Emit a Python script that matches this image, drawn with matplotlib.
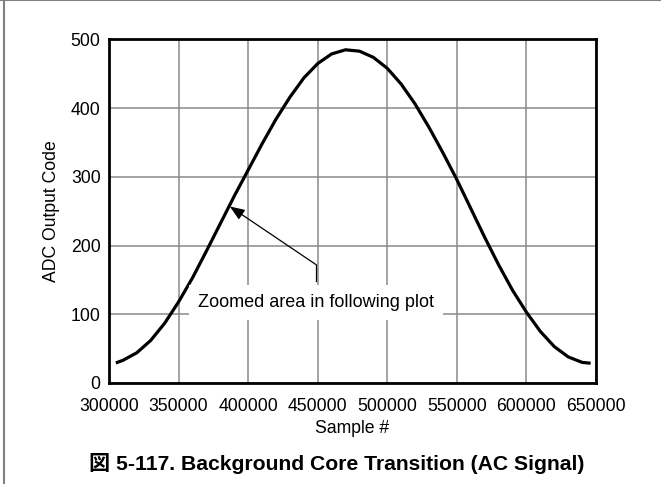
import matplotlib
matplotlib.use("Agg")
import matplotlib.pyplot as plt
from matplotlib.lines import Line2D

# valores
sample = [306000, 310000, 320000, 330000, 340000, 350000, 360000, 370000,
          380000, 390000, 400000, 410000, 420000, 430000, 440000, 450000,
          460000, 470000, 480000, 490000, 500000, 510000, 520000, 530000,
          540000, 550000, 560000, 570000, 580000, 590000, 600000, 610000,
          620000, 630000, 640000, 645000]
adc_code = [30, 33, 44, 62, 87, 118, 153, 192, 232, 272, 310, 348, 384, 416,
            444, 465, 479, 485, 483, 474, 458, 435, 406, 372, 335, 296, 254,
            212, 172, 135, 103, 75, 53, 38, 30, 29]

x_ticks = [300000, 350000, 400000, 450000, 500000, 550000, 600000, 650000]
y_ticks = [0, 100, 200, 300, 400, 500]

arrow_tip = (386800, 257)
arrow_tail = (449000, 172)
note_pos = (449000, 117)
note_text = "Zoomed area in following plot"
caption = "図 5-117. Background Core Transition (AC Signal)"

plt.rcParams['font.family'] = ['Liberation Sans', 'Noto Sans CJK JP', 'DejaVu Sans']

fig = plt.figure(figsize=(6.61, 4.84), dpi=100)
ax = fig.add_axes([0.1649, 0.2087, 0.9017 - 0.1649, 0.9184 - 0.2087])

ax.plot(sample, adc_code, color='black', lw=2.3, solid_joinstyle='round', zorder=3)

ax.set_xlim(300000, 650000)
ax.set_ylim(0, 500)
ax.set_xticks(x_ticks)
ax.set_yticks(y_ticks)
ax.set_xticklabels([str(t) for t in x_ticks])
ax.tick_params(length=0, labelsize=12.7)
ax.tick_params(axis='x', pad=10.5)
ax.tick_params(axis='y', pad=6)
ax.grid(True, color='#8a8a8a', lw=1.1)
ax.set_axisbelow(True)
for s in ax.spines.values():
    s.set_linewidth(2.0)
    s.set_zorder(4)

ax.set_xlabel("Sample #", fontsize=12.7, labelpad=4)
ax.set_ylabel("ADC Output Code", fontsize=12.7, labelpad=8)

# texto y flecha
ax.text(note_pos[0], note_pos[1], note_text, fontsize=13, ha='center', va='center',
        zorder=5, bbox=dict(boxstyle='square,pad=0.5', fc='white', ec='none'))
ax.plot([arrow_tail[0], arrow_tail[0]], [arrow_tail[1], 148], color='black', lw=0.9, zorder=5)
ax.annotate("", xy=arrow_tip, xytext=arrow_tail,
            arrowprops=dict(arrowstyle='-|>,head_length=0.9,head_width=0.35',
                            color='black', lw=0.9, shrinkA=0, shrinkB=0), zorder=5)

fig.text(0.510, 0.0434, caption, fontsize=15.2, fontweight='bold', ha='center', va='center')

# marco exterior
fig.add_artist(Line2D([0, 1], [0.999, 0.999], color='#808080', lw=1.5, transform=fig.transFigure))
fig.add_artist(Line2D([0.0068, 0.0068], [0, 1], color='#808080', lw=1.5, transform=fig.transFigure))

fig.savefig("out.png", dpi=100)
